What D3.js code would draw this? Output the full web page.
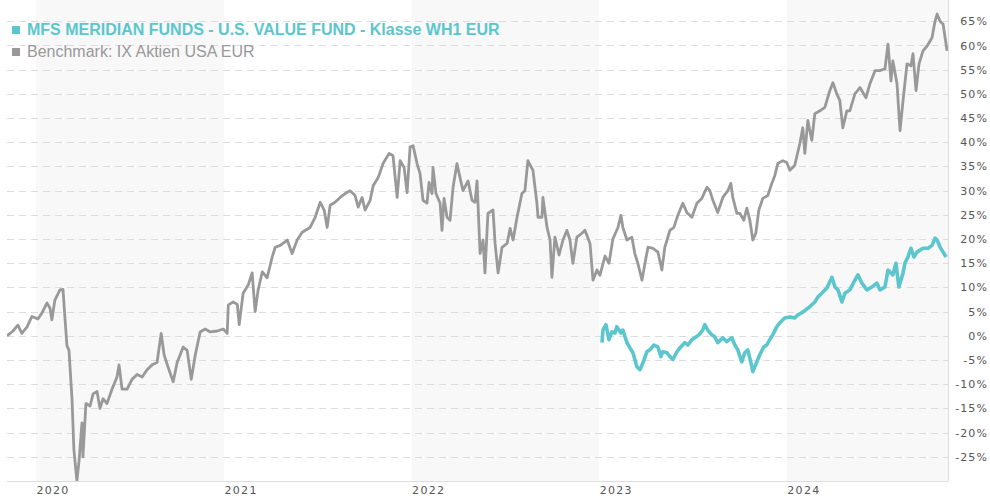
<!DOCTYPE html>
<html>
<head>
<meta charset="utf-8">
<script src="https://cdn.jsdelivr.net/npm/d3@7"></script>
<style>
  html, body { margin: 0; padding: 0; background: #fff; }
  svg { display: block; }
</style>
</head>
<body>
<svg id="chart" width="990" height="500"></svg>
<script>
// Dates are decimal years, values are % performance
const benchDates = [
  2019.846, 2019.878, 2019.904, 2019.925, 2019.952, 2019.979, 2020.011, 2020.032, 2020.059, 2020.075,
  2020.085, 2020.101, 2020.128, 2020.144, 2020.154, 2020.165, 2020.176, 2020.192, 2020.202, 2020.218,
  2020.229, 2020.245, 2020.250, 2020.266, 2020.288, 2020.304, 2020.325, 2020.341, 2020.357, 2020.378,
  2020.405, 2020.431, 2020.442, 2020.458, 2020.485, 2020.511, 2020.538, 2020.565, 2020.591, 2020.618,
  2020.644, 2020.666, 2020.682, 2020.703, 2020.730, 2020.751, 2020.783, 2020.804, 2020.826, 2020.847,
  2020.873, 2020.900, 2020.927, 2020.964, 2020.996, 2021.017, 2021.023, 2021.049, 2021.071, 2021.081,
  2021.102, 2021.129, 2021.150, 2021.166, 2021.182, 2021.204, 2021.230, 2021.257, 2021.273, 2021.300,
  2021.337, 2021.363, 2021.390, 2021.417, 2021.459, 2021.486, 2021.513, 2021.534, 2021.550, 2021.566,
  2021.592, 2021.619, 2021.646, 2021.672, 2021.699, 2021.715, 2021.736, 2021.752, 2021.779, 2021.795,
  2021.822, 2021.848, 2021.880, 2021.901, 2021.923, 2021.939, 2021.960, 2021.976, 2021.992, 2022.008,
  2022.029, 2022.045, 2022.061, 2022.082, 2022.093, 2022.109, 2022.114, 2022.130, 2022.152, 2022.162,
  2022.173, 2022.189, 2022.205, 2022.221, 2022.242, 2022.258, 2022.274, 2022.301, 2022.322, 2022.338,
  2022.349, 2022.365, 2022.381, 2022.391, 2022.407, 2022.434, 2022.445, 2022.461, 2022.482, 2022.509,
  2022.525, 2022.541, 2022.562, 2022.588, 2022.604, 2022.620, 2022.647, 2022.668, 2022.674, 2022.695,
  2022.700, 2022.722, 2022.738, 2022.748, 2022.764, 2022.786, 2022.807, 2022.828, 2022.844, 2022.860,
  2022.881, 2022.908, 2022.924, 2022.951, 2022.967, 2022.988, 2023.004, 2023.031, 2023.052, 2023.073,
  2023.100, 2023.116, 2023.126, 2023.148, 2023.174, 2023.190, 2023.206, 2023.228, 2023.244, 2023.260,
  2023.286, 2023.313, 2023.334, 2023.350, 2023.377, 2023.398, 2023.419, 2023.446, 2023.467, 2023.494,
  2023.521, 2023.547, 2023.574, 2023.590, 2023.606, 2023.632, 2023.659, 2023.686, 2023.702, 2023.712,
  2023.734, 2023.750, 2023.771, 2023.787, 2023.803, 2023.819, 2023.835, 2023.851, 2023.872, 2023.899,
  2023.920, 2023.936, 2023.952, 2023.979, 2024.000, 2024.016, 2024.042, 2024.069, 2024.085, 2024.096,
  2024.112, 2024.133, 2024.149, 2024.176, 2024.202, 2024.229, 2024.245, 2024.266, 2024.282, 2024.298,
  2024.319, 2024.335, 2024.362, 2024.389, 2024.421, 2024.442, 2024.469, 2024.495, 2024.522, 2024.538,
  2024.554, 2024.564, 2024.586, 2024.602, 2024.618, 2024.639, 2024.660, 2024.671, 2024.687, 2024.703,
  2024.724, 2024.746, 2024.772, 2024.788, 2024.799, 2024.815, 2024.831, 2024.852
];
const benchValues = [
  0, 1, 2.2, 0.5, 1.8, 4, 3.5, 4.7, 6.8, 5.7,
  3.3, 7.4, 9.5, 9.6, 4, -2, -3, -13, -23.5, -30,
  -26, -18, -25, -14, -14.5, -12, -11.5, -15, -13, -14,
  -11, -8.5, -6, -11, -11, -9, -8, -8.5, -7, -6,
  -5.5, 0.5, -4, -6.5, -9.5, -5.5, -2.3, -3, -9, -4,
  0.8, 1.4, 0.8, 1, 1.4, 0.5, 6.4, 7, 6.5, 2.3,
  8.8, 10.5, 13, 5, 9.5, 13.2, 12, 16.3, 18.3, 18.7,
  19.8, 17, 19.8, 21.4, 22.4, 24.5, 27.6, 26, 22.4, 27,
  27.6, 28.6, 29.4, 30, 29, 26.6, 28.6, 26, 28, 31,
  32.7, 35.6, 37.7, 37.2, 28.6, 36.2, 34.8, 29.6, 39, 39.3,
  35.6, 33.5, 28, 27.4, 31.7, 29.4, 34.8, 29.4, 27.4, 21.8,
  28.4, 24.5, 23.9, 30.7, 35.6, 32.7, 30, 32, 28, 27.6,
  32, 17, 19.8, 13, 25.3, 26, 19.1, 13, 18.3, 19.1,
  22.2, 19.8, 24.5, 29.4, 30, 36.2, 34.2, 27.4, 24.5, 24.5,
  28.6, 22.4, 19.8, 12.1, 20.4, 16.7, 19.8, 21.8, 19.8, 15,
  20.4, 21.2, 21.8, 19.1, 11.5, 13.6, 12.5, 16.5, 15, 20,
  22.4, 24.9, 22.4, 19.8, 20.4, 17, 15, 11.5, 15, 18.3,
  18.1, 17.3, 13.6, 18.3, 21.8, 22.4, 24.9, 27.4, 25.5, 24.5,
  27.4, 28.4, 30.7, 30, 28, 25.5, 28.6, 30, 31.5, 28.6,
  25.3, 25.3, 23.9, 26.4, 23.9, 19.8, 21.2, 26, 28.4, 29,
  31.5, 33.1, 35.6, 36.2, 35.8, 34.2, 35.2, 39.7, 43, 37.7,
  44.5, 40.4, 45.9, 46.5, 47.2, 50.7, 52.3, 50, 48.6, 43,
  46.5, 46.5, 50, 51.3, 49.2, 52.1, 54.8, 54.8, 55.2, 60.3,
  52.7, 56.8, 52.1, 42.4, 48.6, 56.2, 55.8, 58.3, 50.7, 56.2,
  58.9, 59.9, 61.6, 65, 66.5, 65, 64.4, 58.9
];

const fundDates = [
  2023.015, 2023.020, 2023.036, 2023.052, 2023.068, 2023.084, 2023.094, 2023.116, 2023.126, 2023.148,
  2023.164, 2023.180, 2023.201, 2023.217, 2023.233, 2023.254, 2023.270, 2023.291, 2023.313, 2023.329,
  2023.339, 2023.361, 2023.377, 2023.393, 2023.414, 2023.430, 2023.457, 2023.473, 2023.494, 2023.510,
  2023.531, 2023.552, 2023.563, 2023.579, 2023.600, 2023.616, 2023.632, 2023.659, 2023.680, 2023.707,
  2023.723, 2023.739, 2023.760, 2023.776, 2023.792, 2023.808, 2023.819, 2023.840, 2023.856, 2023.877,
  2023.893, 2023.909, 2023.925, 2023.947, 2023.963, 2023.989, 2024.016, 2024.042, 2024.058, 2024.085,
  2024.122, 2024.149, 2024.165, 2024.186, 2024.213, 2024.240, 2024.256, 2024.272, 2024.293, 2024.309,
  2024.335, 2024.362, 2024.378, 2024.399, 2024.426, 2024.453, 2024.479, 2024.495, 2024.522, 2024.538,
  2024.564, 2024.580, 2024.596, 2024.618, 2024.628, 2024.644, 2024.660, 2024.676, 2024.692, 2024.724,
  2024.751, 2024.772, 2024.788, 2024.799, 2024.815, 2024.831, 2024.847
];
const fundValues = [
  -1.4, 1.2, 2.3, -0.8, 0.8, 0.6, 1.9, 0.6, 1.2, -1.4,
  -2.5, -3.5, -6.4, -7, -5.6, -3.3, -2.9, -1.9, -2.3, -4.3,
  -3.3, -3.5, -4.3, -4.9, -3.3, -2.5, -1.4, -1.9, -0.8, -0.4,
  0.2, 1.2, 2.3, 1.2, 0.2, -0.2, -1.4, -0.4, -1.2, -0.4,
  -1.9, -2.9, -5.4, -3.5, -2.9, -5.4, -7.4, -5.4, -3.9, -2.3,
  -1.9, -0.8, 0.2, 1.9, 2.7, 3.7, 3.9, 3.7, 4.3, 4.9,
  6, 7, 8, 8.8, 9.9, 12.1, 10.1, 9.5, 7, 8.8,
  9.5, 11.5, 12.6, 10.9, 9.5, 10.1, 10.9, 9.5, 10.1, 13.6,
  12.6, 15, 10.1, 13, 15, 16.3, 18.1, 16.3, 17.3, 18.1,
  18.1, 18.7, 20.2, 19.8, 18.3, 17.3, 16.3
];

const yearTicks = [2020, 2021, 2022, 2023, 2024];
const shadedYears = [2020, 2022, 2024];
const pctTicks = [-25, -20, -15, -10, -5, 0, 5, 10, 15, 20, 25, 30, 35, 40, 45, 50, 55, 60, 65];
const seriesNames = ['MFS MERIDIAN FUNDS - U.S. VALUE FUND - Klasse WH1 EUR', 'Benchmark: IX Aktien USA EUR'];
const seriesColors = ['#5bc6cd', '#999999'];

function toDate(y) {
  const yr = Math.floor(y);
  const a = Date.UTC(yr, 0, 1), b = Date.UTC(yr + 1, 0, 1);
  return new Date(a + (y - yr) * (b - a));
}

const plot = { left: 7, right: 948, top: 0, bottom: 481 };
const svg = d3.select('#chart');

const x = d3.scaleUtc()
  .domain([toDate(2019.846), toDate(2024.857)])
  .range([plot.left, plot.right]);
const y = d3.scaleLinear()
  .domain([-30, 69.4])
  .range([plot.bottom, plot.top]);

svg.append('defs').append('clipPath').attr('id', 'plot-clip')
  .append('rect')
  .attr('x', plot.left).attr('y', plot.top)
  .attr('width', plot.right - plot.left).attr('height', plot.bottom - plot.top);

// Alternating year bands
svg.append('g').selectAll('rect')
  .data(shadedYears)
  .join('rect')
  .attr('x', d => Math.max(plot.left, x(toDate(d))))
  .attr('y', plot.top)
  .attr('width', d => Math.min(plot.right, x(toDate(d + 1))) - Math.max(plot.left, x(toDate(d))))
  .attr('height', plot.bottom - plot.top)
  .style('fill', '#f8f8f8');

// Dashed horizontal gridlines
svg.append('g').selectAll('line')
  .data(pctTicks)
  .join('line')
  .attr('x1', plot.left).attr('x2', plot.right)
  .attr('y1', d => Math.round(y(d)) + 0.5).attr('y2', d => Math.round(y(d)) + 0.5)
  .style('stroke', '#dcdcdc')
  .style('stroke-dasharray', '7,5');

// Bottom axis line and right border
svg.append('line')
  .attr('x1', plot.left).attr('x2', plot.right)
  .attr('y1', plot.bottom + 0.5).attr('y2', plot.bottom + 0.5)
  .style('stroke', '#dddddd');
svg.append('line')
  .attr('x1', plot.right + 0.5).attr('x2', plot.right + 0.5)
  .attr('y1', plot.top).attr('y2', plot.bottom)
  .style('stroke', '#dddddd');

// Y labels (right)
const yAxis = d3.axisRight(y)
  .tickValues(pctTicks)
  .tickSize(0)
  .tickFormat(d => d + '%');
const yg = svg.append('g').attr('transform', `translate(${plot.right}, 0)`).call(yAxis);
yg.select('.domain').remove();
yg.selectAll('text')
  .attr('x', 40)
  .style('text-anchor', 'end')
  .style('font-family', '"DejaVu Sans", Verdana, sans-serif')
  .style('font-size', '11px')
  .style('letter-spacing', '1.1px')
  .style('fill', '#555');

// X labels (bottom)
const xAxis = d3.axisBottom(x)
  .tickValues(yearTicks.map(toDate))
  .tickSize(0)
  .tickFormat(d3.utcFormat('%Y'));
const xg = svg.append('g').attr('transform', `translate(0, ${plot.bottom})`).call(xAxis);
xg.select('.domain').remove();
xg.selectAll('text')
  .attr('y', 5)
  .style('text-anchor', 'start')
  .style('font-family', '"DejaVu Sans", Verdana, sans-serif')
  .style('font-size', '11px')
  .style('letter-spacing', '1.3px')
  .style('fill', '#555');

// Series lines
const line = d3.line()
  .x(d => x(toDate(d[0])))
  .y(d => y(d[1]));

const lines = svg.append('g').attr('clip-path', 'url(#plot-clip)');
lines.append('path')
  .datum(d3.zip(benchDates, benchValues))
  .attr('d', line)
  .style('fill', 'none')
  .style('stroke', seriesColors[1])
  .style('stroke-width', 2.8)
  .style('stroke-linejoin', 'round');
lines.append('path')
  .datum(d3.zip(fundDates, fundValues))
  .attr('d', line)
  .style('fill', 'none')
  .style('stroke', seriesColors[0])
  .style('stroke-width', 3.6)
  .style('stroke-linejoin', 'round');

// Legend
const legend = svg.append('g').attr('transform', 'translate(12, 0)');
seriesNames.forEach((name, i) => {
  const row = legend.append('g').attr('transform', `translate(0, ${35 + i * 22})`);
  row.append('rect')
    .attr('x', 0).attr('y', -9)
    .attr('width', 8).attr('height', 8)
    .style('fill', seriesColors[i]);
  row.append('text')
    .attr('x', 15).attr('y', 0)
    .style('font-family', '"Liberation Sans", Arial, sans-serif')
    .style('font-size', '16px')
    .style('font-weight', i === 0 ? 'bold' : 'normal')
    .style('fill', seriesColors[i])
    .text(name);
});
</script>
</body>
</html>
